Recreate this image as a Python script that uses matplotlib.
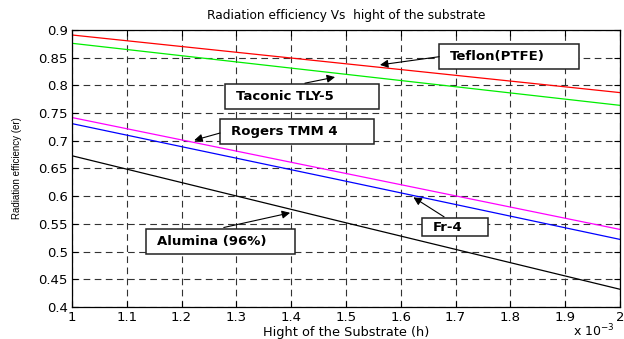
import matplotlib
matplotlib.use("Agg")
import matplotlib.pyplot as plt
from matplotlib.patches import Rectangle
from matplotlib.ticker import FuncFormatter

plt.rcParams["font.family"] = ["DejaVu Sans"]

# substrate height (x 10^-3)
h = [1.0, 1.5, 2.0]
teflon = [0.891, 0.839, 0.787]
taconic = [0.876, 0.820, 0.764]
rogers = [0.742, 0.641, 0.540]
fr4 = [0.731, 0.627, 0.522]
alumina = [0.673, 0.552, 0.432]

series = [teflon, taconic, rogers, fr4, alumina]
colors = ["red", "#00ee00", "magenta", "blue", "black"]

# label, box (x0, x1, y0, y1), arrow tail, arrow tip
notes = [
    ("Teflon(PTFE)", (1.670, 1.925, 0.829, 0.874), (1.670, 0.8518), (1.562, 0.837)),
    ("Taconic TLY-5", (1.279, 1.560, 0.758, 0.802), (1.425, 0.804), (1.480, 0.815)),
    ("Rogers TMM 4", (1.270, 1.551, 0.694, 0.739), (1.270, 0.714), (1.223, 0.701)),
    ("Alumina (96%)", (1.1345, 1.407, 0.4965, 0.5404), (1.277, 0.5435), (1.398, 0.570)),
    ("Fr-4", (1.638, 1.760, 0.5278, 0.5608), (1.679, 0.5627), (1.623, 0.598)),
]

fig = plt.figure(figsize=(6.24, 3.39), dpi=100, facecolor="white")
ax = fig.add_axes([0.1154, 0.0944, 0.8782, 0.8171])

for vals, c in zip(series, colors):
    ax.plot(h, vals, color=c, linewidth=0.9)

ax.set_xlim(1, 2)
ax.set_ylim(0.4, 0.9)
ax.set_xticks([1 + 0.1 * i for i in range(11)])
ax.set_yticks([0.4 + 0.05 * i for i in range(11)])
ax.xaxis.set_major_formatter(FuncFormatter(lambda v, p: f"{round(v, 1):g}"))
ax.yaxis.set_major_formatter(FuncFormatter(lambda v, p: f"{round(v, 2):g}"))
ax.tick_params(direction="in", top=True, right=True, labelsize=9.5, length=4, width=0.8, pad=3)
ax.grid(True, color="#333333", linestyle=(0, (6, 4)), linewidth=0.8)
for s in ax.spines.values():
    s.set_linewidth(0.9)

ax.set_title("Radiation efficiency Vs  hight of the substrate", fontsize=8.7, pad=8)
ax.set_xlabel("Hight of the Substrate (h)", fontsize=9.3, labelpad=1)
ax.set_ylabel("Radiation efficiency (er)", fontsize=7, labelpad=12, family="Liberation Sans")
fig.text(0.918, 0.0, r"x 10$^{-3}$", fontsize=9, ha="left", va="bottom")

for label, (x0, x1, y0, y1), tail, tip in notes:
    ax.add_patch(Rectangle((x0, y0), x1 - x0, y1 - y0, fc="white", ec="#222222", lw=1.1, zorder=5))
    ax.text(x0 + 0.02, (y0 + y1) / 2, label, fontsize=9.5, fontweight="bold",
            ha="left", va="center", zorder=6)
    ax.annotate("", xy=tip, xytext=tail,
                arrowprops=dict(arrowstyle="-|>", color="black", lw=0.8,
                                mutation_scale=12, shrinkA=0, shrinkB=0), zorder=6)

fig.savefig("out.png", dpi=100)
